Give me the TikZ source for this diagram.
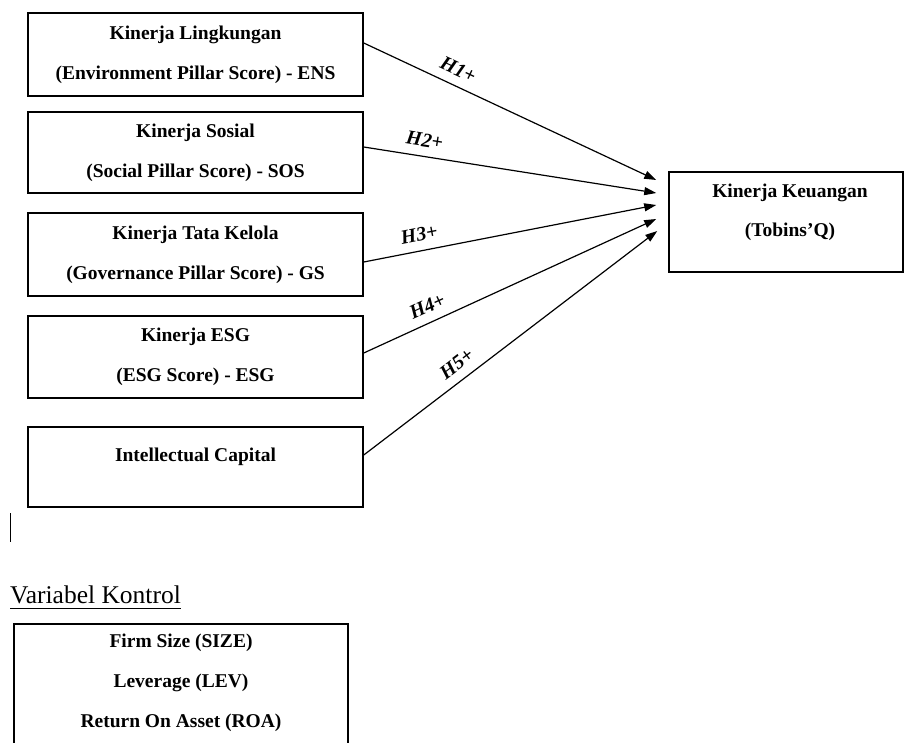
\documentclass[tikz,border=0pt]{standalone}
\usepackage{fontspec}
\setmainfont{Liberation Serif}
\usetikzlibrary{arrows.meta}
\begin{document}
\begin{tikzpicture}[x=1pt,y=-1pt,
  box/.style={draw, line width=1.5pt, minimum width=335pt, inner sep=0pt},
  lbl/.style={font=\fontsize{19.5}{40}\selectfont\bfseries, align=center, inner sep=0pt},
  hyp/.style={font=\fontsize{20}{22}\selectfont\bfseries\itshape, sloped, above=9pt, inner sep=0pt},
  arr/.style={line width=1.2pt, -{Triangle[length=12pt,width=8pt]}}]
\useasboundingbox (0,0) rectangle (904,742);
\clip (0,0) rectangle (904,742);
% left boxes
\node[box, minimum height=83pt] (b1) at (195.5,54.5) {};
\node[box, minimum height=81pt] (b2) at (195.5,152.5) {};
\node[box, minimum height=83pt] (b3) at (195.5,254.5) {};
\node[box, minimum height=82pt] (b4) at (195.5,357) {};
\node[box, minimum height=80pt] (b5) at (195.5,467) {};
\node[lbl] (t1) at (b1.center) {Kinerja Lingkungan\\(Environment Pillar Score) - ENS};
\node[lbl] (t2) at (b2.center) {Kinerja Sosial\\(Social Pillar Score) - SOS};
\node[lbl] (t3) at (b3.center) {Kinerja Tata Kelola\\(Governance Pillar Score) - GS};
\node[lbl] (t4) at (b4.center) {Kinerja ESG\\(ESG Score) - ESG};
\node[lbl] (t5) at (195.5,457) {Intellectual Capital};
% right box
\node[draw, line width=1.5pt, minimum width=234pt, minimum height=100pt, inner sep=0pt] (tb) at (786,222) {};
\node[lbl, font=\fontsize{19.5}{39}\selectfont\bfseries] (tt) at (790,212.5) {Kinerja Keuangan\\(Tobins’Q)};
% arrows
\draw[arr] ([yshift=11.5pt]b1.east) -- ([xshift=-12pt,yshift=42pt]tb.west) node[hyp, pos=0.3] (h1) {H1+};
\draw[arr] ([yshift=5.5pt]b2.east) -- ([xshift=-12pt,yshift=29pt]tb.west) node[hyp, pos=0.2] (h2) {H2+};
\draw[arr] ([yshift=-7.5pt]b3.east) -- ([xshift=-12pt,yshift=17pt]tb.west) node[hyp, pos=0.2] (h3) {H3+};
\draw[arr] ([yshift=4pt]b4.east) -- ([xshift=-12pt,yshift=3pt]tb.west) node[hyp, pos=0.24] (h4) {H4+};
\draw[arr] ([yshift=12pt]b5.east) -- ([xshift=-11pt,yshift=-9pt]tb.west) node[hyp, pos=0.35] (h5) {H5+};
% cursor mark
\draw[line width=1pt] (10,513) -- (10,542);
% control variables
\node[font=\fontsize{25.5}{30}\selectfont, anchor=base west, inner sep=0pt] (vk) at (10,603) {Variabel Kontrol};
\draw[line width=1pt] ([yshift=-5pt]vk.base west) -- ([yshift=-5pt]vk.base east);
\node[box, minimum width=334pt, minimum height=146pt] (cb) at (181,697) {};
\node[lbl] (c1) at (181,643) {Firm Size (SIZE)};
\node[lbl] (c2) at (181,683) {Leverage (LEV)};
\node[lbl] (c3) at (181,723) {Return On Asset (ROA)};
\end{tikzpicture}
\end{document}
